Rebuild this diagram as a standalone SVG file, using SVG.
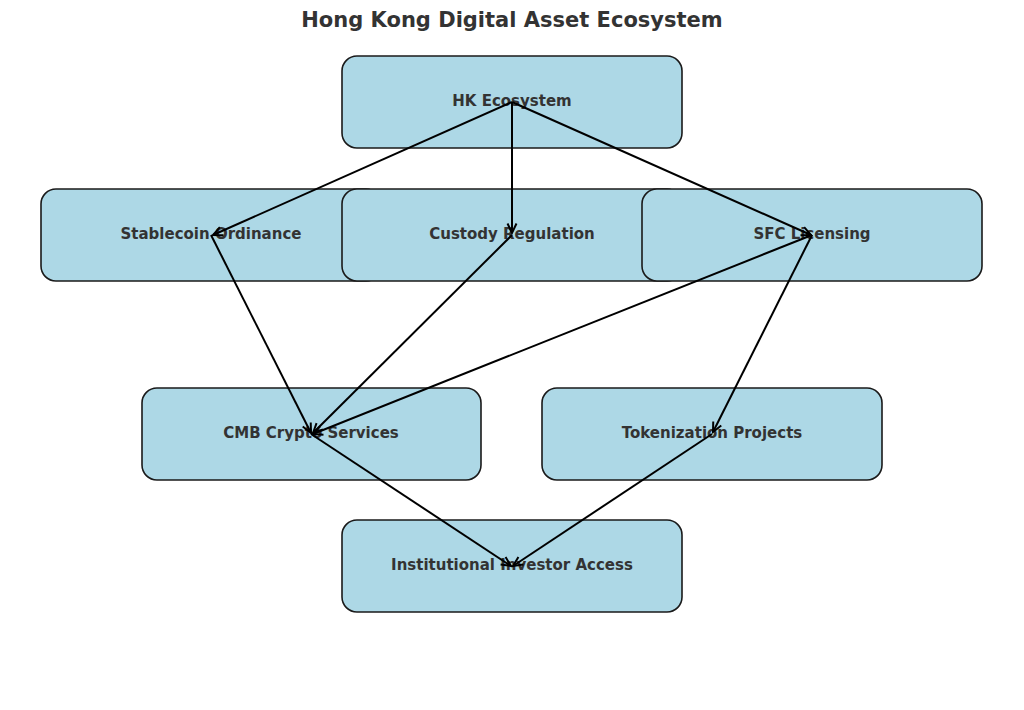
<svg xmlns="http://www.w3.org/2000/svg" width="1024" height="710" viewBox="0 0 1024 710">
<defs>
<style>
.box{fill:#add8e6;stroke:#1a1a1a;stroke-width:1.6}
.lbl{font-family:"DejaVu Sans",sans-serif;font-weight:bold;font-size:15px;fill:#333333;text-anchor:middle;dominant-baseline:central}
.title{font-family:"DejaVu Sans",sans-serif;font-weight:bold;font-size:21px;fill:#333333;text-anchor:middle}
.edge{stroke:#000;stroke-width:2;fill:none;marker-end:url(#arr)}
</style>
<marker id="arr" markerUnits="userSpaceOnUse" markerWidth="20" markerHeight="20" refX="11" refY="10" orient="auto">
<path d="M1.5,5.5 L11,10 L1.5,14.5" fill="none" stroke="#000" stroke-width="2"/>
</marker>
</defs>
<rect width="1024" height="710" fill="#ffffff"/>
<text class="title" x="512" y="27">Hong Kong Digital Asset Ecosystem</text>
<g id="hk"><rect class="box" x="342" y="56" width="340" height="92" rx="15"/><text class="lbl" x="512" y="101">HK Ecosystem</text></g>
<g id="stablecoin"><rect class="box" x="41" y="189" width="340" height="92" rx="15"/><text class="lbl" x="211" y="234">Stablecoin Ordinance</text></g>
<g id="custody"><rect class="box" x="342" y="189" width="340" height="92" rx="15"/><text class="lbl" x="512" y="234">Custody Regulation</text></g>
<g id="sfc"><rect class="box" x="642" y="189" width="340" height="92" rx="15"/><text class="lbl" x="812" y="234">SFC Licensing</text></g>
<g id="cmb"><rect class="box" x="142" y="388" width="339" height="92" rx="15"/><text class="lbl" x="311" y="433">CMB Crypto Services</text></g>
<g id="token"><rect class="box" x="542" y="388" width="340" height="92" rx="15"/><text class="lbl" x="712" y="433">Tokenization Projects</text></g>
<g id="inst"><rect class="box" x="342" y="520" width="340" height="92" rx="15"/><text class="lbl" x="512" y="565">Institutional Investor Access</text></g>
<g id="connectors">
<line class="edge" x1="512" y1="102" x2="213" y2="235"/>
<line class="edge" x1="512" y1="102" x2="512" y2="233"/>
<line class="edge" x1="512" y1="102" x2="811" y2="235"/>
<line class="edge" x1="211" y1="235" x2="311" y2="433"/>
<line class="edge" x1="512" y1="235" x2="313" y2="433"/>
<line class="edge" x1="812" y1="235" x2="313" y2="434"/>
<line class="edge" x1="812" y1="235" x2="713" y2="432"/>
<line class="edge" x1="311" y1="434" x2="511" y2="566"/>
<line class="edge" x1="712" y1="434" x2="513" y2="566"/>
</g>
</svg>
